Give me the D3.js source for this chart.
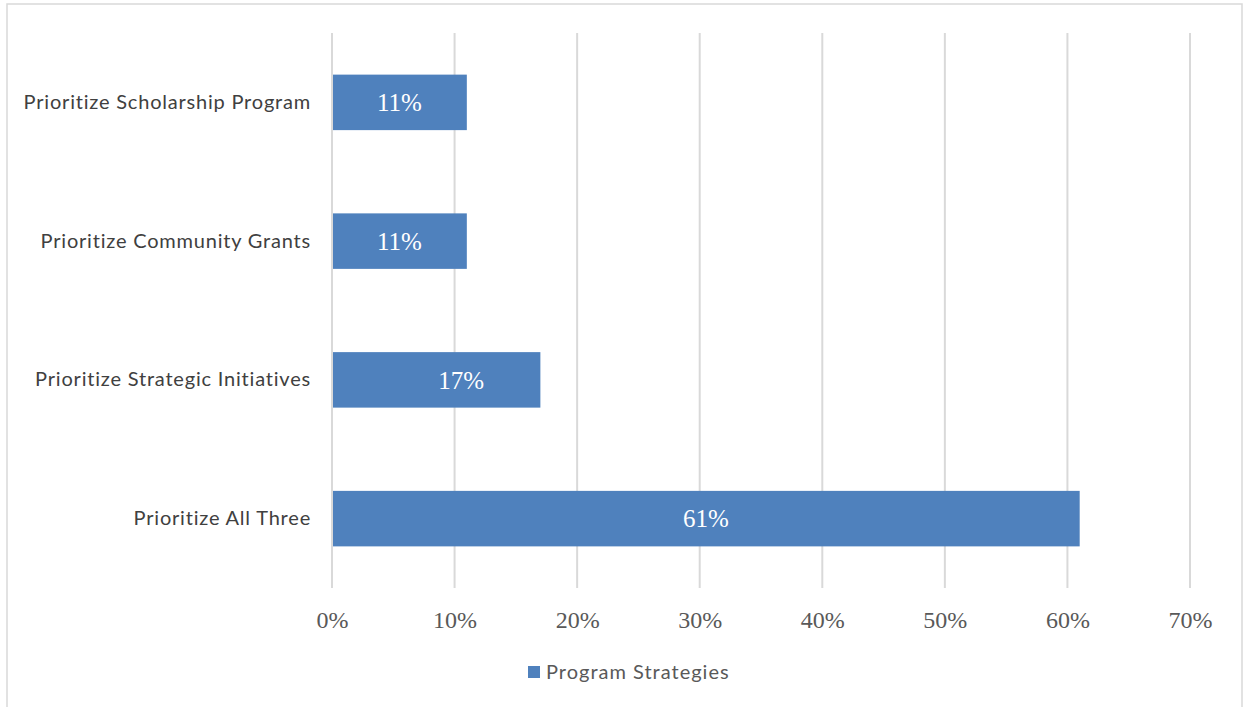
<!DOCTYPE html>
<html>
<head>
<meta charset="utf-8">
<script src="https://cdn.jsdelivr.net/npm/d3@7"></script>
<style>
  html, body { margin: 0; padding: 0; background: #ffffff; }
  svg { display: block; }
</style>
</head>
<body>
<svg id="chart" width="1244" height="707"></svg>
<script>
// Survey results: share of respondents per program strategy
const categories = [
  "Prioritize Scholarship Program",
  "Prioritize Community Grants",
  "Prioritize Strategic Initiatives",
  "Prioritize All Three"
];
const values = [11, 11, 17, 61];
const tickValues = [0, 10, 20, 30, 40, 50, 60, 70];
const seriesName = "Program Strategies";

const svg = d3.select("#chart");

// chart frame
svg.append("rect")
  .attr("x", 7).attr("y", 4)
  .attr("width", 1235).attr("height", 720)
  .attr("fill", "#ffffff")
  .attr("stroke", "#d9d9d9")
  .attr("stroke-width", 1.5);

const plot = { left: 332, right: 1190, top: 33, bottom: 588 };

const x = d3.scaleLinear().domain([0, 70]).range([plot.left, plot.right]);
const y = d3.scaleBand().domain(categories).range([plot.top, plot.bottom]).paddingInner(0.6).paddingOuter(0.3);

// vertical gridlines
svg.append("g")
  .selectAll("line")
  .data(tickValues)
  .join("line")
  .attr("x1", d => x(d)).attr("x2", d => x(d))
  .attr("y1", plot.top).attr("y2", plot.bottom)
  .attr("stroke", "#d9d9d9")
  .attr("stroke-width", 2);

// bars
svg.append("g")
  .selectAll("rect")
  .data(values)
  .join("rect")
  .attr("x", x(0) + 1)
  .attr("y", (d, i) => y(categories[i]))
  .attr("width", d => x(d) - x(0) - 1)
  .attr("height", y.bandwidth())
  .attr("fill", "#4f81bd");

// value labels inside bars (the Strategic Initiatives label sits a little right of centre)
const labelShift = i => (categories[i] === "Prioritize Strategic Initiatives" ? 25 : 0);
svg.append("g")
  .selectAll("text")
  .data(values)
  .join("text")
  .attr("x", (d, i) => (x(0) + x(d)) / 2 + labelShift(i))
  .attr("y", (d, i) => y(categories[i]) + y.bandwidth() / 2)
  .attr("dy", "0.35em")
  .attr("text-anchor", "middle")
  .attr("fill", "#ffffff")
  .style("font-family", "'Liberation Serif', 'DejaVu Serif', serif")
  .style("font-size", "25px")
  .text(d => d + "%");

// x axis labels
const xAxis = d3.axisBottom(x)
  .tickValues(tickValues)
  .tickFormat(d => d + "%")
  .tickSize(0)
  .tickPadding(0);
const gx = svg.append("g")
  .attr("transform", `translate(0, ${plot.bottom + 32})`)
  .call(xAxis);
gx.select(".domain").remove();
gx.selectAll("text")
  .attr("dy", "0.35em")
  .attr("fill", "#595959")
  .style("font-family", "'Liberation Serif', 'DejaVu Serif', serif")
  .style("font-size", "24px");

// category labels
const yAxis = d3.axisLeft(y).tickSize(0).tickPadding(21);
const gy = svg.append("g")
  .attr("transform", `translate(${plot.left}, 0)`)
  .call(yAxis);
gy.select(".domain").remove();
gy.selectAll("text")
  .attr("fill", "#404040")
  .style("font-family", "'Lato', 'Noto Sans', sans-serif")
  .style("font-size", "20px")
  .style("letter-spacing", "0.8px");

// legend
const legend = svg.append("g").attr("transform", "translate(528, 672)");
legend.append("rect")
  .attr("x", 0).attr("y", -6)
  .attr("width", 12).attr("height", 12)
  .attr("fill", "#4f81bd");
legend.append("text")
  .attr("x", 18).attr("y", 0)
  .attr("dy", "0.35em")
  .attr("fill", "#595959")
  .style("font-family", "'Lato', 'Noto Sans', sans-serif")
  .style("font-size", "20px")
  .style("letter-spacing", "1px")
  .text(seriesName);
</script>
</body>
</html>
